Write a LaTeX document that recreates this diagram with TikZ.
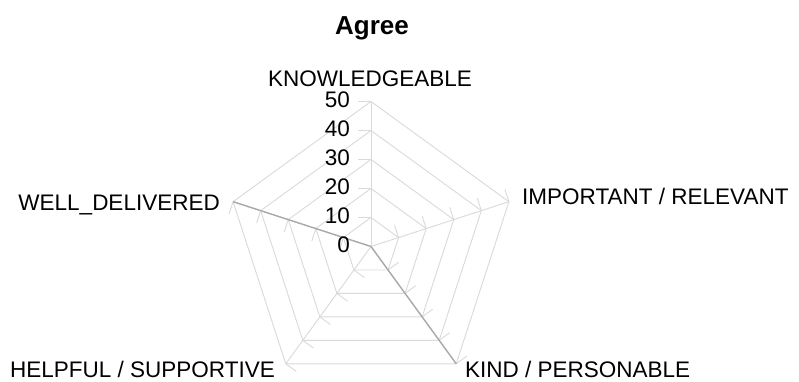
\documentclass[tikz,border=0pt]{standalone}
\usepackage{fontspec}
\setmainfont{Liberation Sans}
\definecolor{gridgray}{RGB}{217,217,217}
\definecolor{datagray}{RGB}{170,170,170}
\begin{document}
\begin{tikzpicture}[x=1bp,y=1bp,
  gridline/.style={draw=gridgray, line width=0.9bp},
  dataline/.style={draw=datagray, line width=1.4bp},
  axislabel/.style={inner sep=0pt, font=\fontsize{22.5bp}{27bp}\selectfont},
  numlabel/.style={inner sep=0pt, anchor=base east, font=\fontsize{22.5bp}{27bp}\selectfont},
  titlelabel/.style={inner sep=0pt, anchor=base, font=\fontsize{26bp}{31bp}\selectfont\bfseries}]
\useasboundingbox (0,0) rectangle (799,381);
\coordinate (C) at (371,134.5);
\foreach \i/\a in {1/90,2/18,3/-54,4/-126,5/162}{
  \coordinate (V\i) at ([shift={(\a:145)}]C);
}
% rings
\foreach \r in {29,58,87,116,145}{
  \draw[gridline] ([shift={(90:\r)}]C) -- ([shift={(18:\r)}]C) -- ([shift={(-54:\r)}]C)
    -- ([shift={(-126:\r)}]C) -- ([shift={(162:\r)}]C) -- cycle;
}
% spokes
\foreach \i in {1,...,5}{
  \draw[gridline] (C) -- (V\i);
}
% ticks
\foreach \a in {90,18,-54,-126,162}{
  \foreach \r in {29,58,87,116,145}{
    \draw[gridline] ([shift={(\a:\r)}]C) -- ++(\a+90:13);
  }
}
% data series
\draw[dataline] (C) -- (V3);
\draw[dataline] (C) -- (V5);
% value labels
\foreach \k in {0,...,5}{
  \pgfmathtruncatemacro\v{10*\k}
  \node[numlabel] (n\k) at (350, 134.5+\k*29-5.5) {\v};
}
% axis labels
\node[axislabel, anchor=base] (lk) at (370,294.5) {KNOWLEDGEABLE};
\node[axislabel, anchor=base west] (li) at (522,176.5) {IMPORTANT / RELEVANT};
\node[axislabel, anchor=base west] (lkind) at (465,3.3) {KIND / PERSONABLE};
\node[axislabel, anchor=base east] (lh) at (275,3.3) {HELPFUL / SUPPORTIVE};
\node[axislabel, anchor=base east] (lw) at (220,171) {WELL\_DELIVERED};
% title
\node[titlelabel] (title) at (372,347) {Agree};
\end{tikzpicture}
\end{document}
